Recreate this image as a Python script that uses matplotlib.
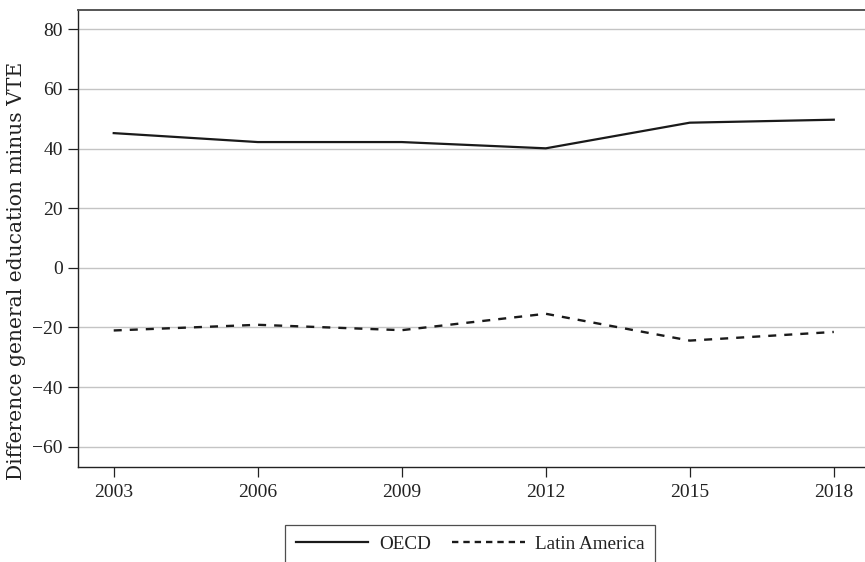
import matplotlib
matplotlib.use("Agg")
import matplotlib.pyplot as plt
from matplotlib.lines import Line2D

years = [2003, 2006, 2009, 2012, 2015, 2018]
oecd = [45.2, 42.2, 42.2, 40.1, 48.7, 49.7]
latin_america = [-21.0, -19.1, -20.9, -15.4, -24.4, -21.5]
yticks = [-60, -40, -20, 0, 20, 40, 60, 80]

plt.rcParams['font.family'] = ['Liberation Serif', 'DejaVu Serif']

W, H = 865, 562
fig = plt.figure(figsize=(W / 100, H / 100), dpi=100)
ax = fig.add_axes([78 / W, 1 - 467 / H, (W - 78) / W, (467 - 10) / H])

ax.plot(years, oecd, color='#1a1a1a', lw=1.6, solid_joinstyle='miter')
ax.plot(years, latin_america, color='#1a1a1a', lw=1.7, dashes=(3.4, 3.4))

ax.set_xlim(2002.256, 2018.65)
ax.set_ylim(-66.8, 86.5)
ax.set_xticks(years)
ax.set_yticks(yticks)
ax.set_yticklabels(['\u2212' + str(-v) if v < 0 else str(v) for v in yticks])

ax.grid(axis='y', color='#c4c4c4', lw=1.0)
ax.set_axisbelow(True)
ax.spines['right'].set_visible(False)
ax.spines['top'].set_color('#555555')
ax.spines['top'].set_linewidth(1.4)
for s in ['left', 'bottom']:
    ax.spines[s].set_color('#222222')
    ax.spines[s].set_linewidth(1.0)

ax.tick_params(direction='out', length=7, width=0.9, color='#222222',
               labelsize=14, labelcolor='#222222')
ax.tick_params(axis='y', pad=4)
ax.tick_params(axis='x', pad=5)

ax.set_ylabel('Difference general education minus VTE', fontsize=14.6,
              color='#222222', family=['DejaVu Serif'])
ax.yaxis.set_label_coords((26 - 78) / 787, (467 - 271) / 457)

handles = [Line2D([], [], color='#1a1a1a', lw=1.6),
           Line2D([], [], color='#1a1a1a', lw=1.7, dashes=(2.7, 2.1))]
leg = fig.legend(handles, ['OECD', 'Latin America'], ncol=2,
                 loc='upper left', bbox_to_anchor=(285 / W, 1 - 525 / H),
                 frameon=True, fancybox=False, fontsize=13.8,
                 handlelength=3.8, handletextpad=0.55, columnspacing=1.1,
                 borderpad=0.55, borderaxespad=0)
leg.get_frame().set_edgecolor('#222222')
leg.get_frame().set_linewidth(0.9)
for t in leg.get_texts():
    t.set_color('#222222')

fig.savefig('out.png', dpi=100)
